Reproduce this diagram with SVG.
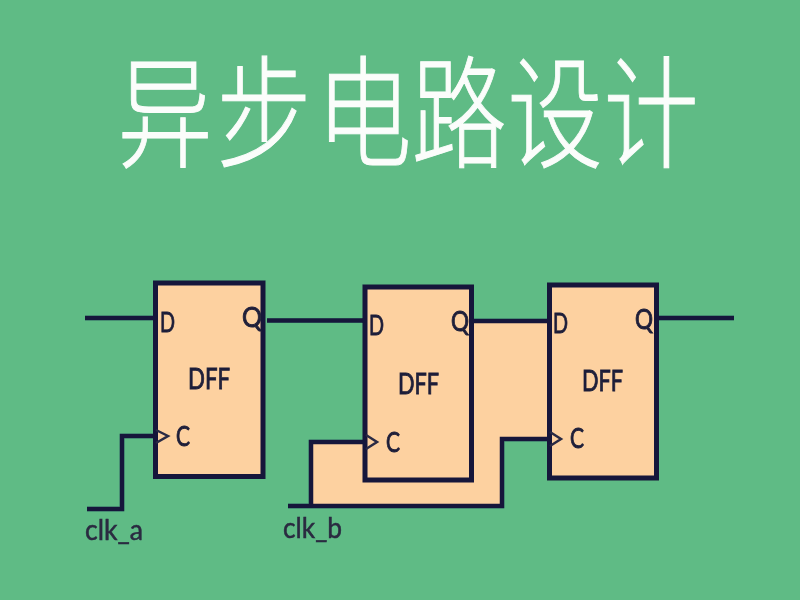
<svg xmlns="http://www.w3.org/2000/svg" width="800" height="600" viewBox="0 0 800 600">
<style>
.box{fill:#fdd1a0;stroke:#15153a;stroke-width:5}
.wire{fill:none;stroke:#14143a;stroke-width:4.500;stroke-linejoin:miter}
.clk{fill:none;stroke:#2a2a44;stroke-width:2.500}
.pin{font-family:"Lato","Liberation Sans",sans-serif;font-size:27px;fill:#20203a;stroke:#20203a;stroke-width:.9}
.name{font-family:"Lato","Liberation Sans",sans-serif;font-size:29px;fill:#20203a;stroke:#20203a;stroke-width:.9}
.lbl{font-family:"Lato","Liberation Sans",sans-serif;font-size:28px;fill:#2a2a40;stroke:#2a2a40;stroke-width:.5}
.ttl{font-family:"Noto Sans CJK SC",sans-serif;font-size:122px;font-weight:300;fill:#fbfdfb;stroke:#fbfdfb;stroke-width:1;text-anchor:middle}
</style>
<defs><filter id="soft" x="-5%" y="-5%" width="110%" height="110%"><feGaussianBlur stdDeviation="0.6"/></filter></defs>
<rect width="800" height="600" fill="#5fbb85"/>
<g id="title" filter="url(#soft)">
<text class="ttl" transform="translate(165 158) scale(0.78 1)">异</text>
<text class="ttl" transform="translate(264 158) scale(0.78 1)">步</text>
<text class="ttl" transform="translate(364 158) scale(0.78 1)">电</text>
<text class="ttl" transform="translate(459 158) scale(0.78 1)">路</text>
<text class="ttl" transform="translate(555 158) scale(0.78 1)">设</text>
<text class="ttl" transform="translate(651 158) scale(0.78 1)">计</text>
</g>
<g filter="url(#soft)">
<path id="peach-band" d="M472 322H548V438H502V506H311V442H365V482H472Z" fill="#fdd1a0"/>
<g id="dff1">
<rect class="box" x="155.500" y="283" width="107.500" height="193.500"/>
<text class="pin" x="160" y="332" textLength="15" lengthAdjust="spacingAndGlyphs">D</text>
<text class="pin" x="242" y="327" textLength="20" lengthAdjust="spacingAndGlyphs">Q</text>
<text class="name" x="188" y="389" textLength="42" lengthAdjust="spacingAndGlyphs">DFF</text>
<path class="clk" d="M156 430L168 436L156 443"/>
<text class="pin" x="176" y="446" textLength="14" lengthAdjust="spacingAndGlyphs">C</text>
</g>
<g id="dff2">
<rect class="box" x="365" y="287" width="106.500" height="193"/>
<text class="pin" x="369" y="335" textLength="15" lengthAdjust="spacingAndGlyphs">D</text>
<text class="pin" x="451" y="331" textLength="18" lengthAdjust="spacingAndGlyphs">Q</text>
<text class="name" x="398" y="394" textLength="41" lengthAdjust="spacingAndGlyphs">DFF</text>
<path class="clk" d="M366 435L377 442L366 449"/>
<text class="pin" x="386" y="452" textLength="14" lengthAdjust="spacingAndGlyphs">C</text>
</g>
<g id="dff3">
<rect class="box" x="549.500" y="285" width="107" height="193"/>
<text class="pin" x="553" y="333" textLength="15" lengthAdjust="spacingAndGlyphs">D</text>
<text class="pin" x="635" y="329" textLength="18" lengthAdjust="spacingAndGlyphs">Q</text>
<text class="name" x="582" y="391" textLength="41" lengthAdjust="spacingAndGlyphs">DFF</text>
<path class="clk" d="M550 432L561 439L550 446"/>
<text class="pin" x="570" y="448" textLength="14" lengthAdjust="spacingAndGlyphs">C</text>
</g>
<g id="connectors">
<path class="wire" d="M85 318H155"/>
<path class="wire" d="M267 320.500H365"/>
<path class="wire" d="M472 321H549"/>
<path class="wire" d="M658 318H734"/>
<path class="wire" d="M87 509H122V436H155"/>
<path class="wire" d="M288 506H502V439H549"/>
<path class="wire" d="M311 506V442H365"/>
</g>
<g id="labels">
<text class="lbl" x="85" y="540" textLength="58" lengthAdjust="spacingAndGlyphs">clk_a</text>
<text class="lbl" x="283" y="538" textLength="59" lengthAdjust="spacingAndGlyphs">clk_b</text>
</g>
</g>
</svg>
